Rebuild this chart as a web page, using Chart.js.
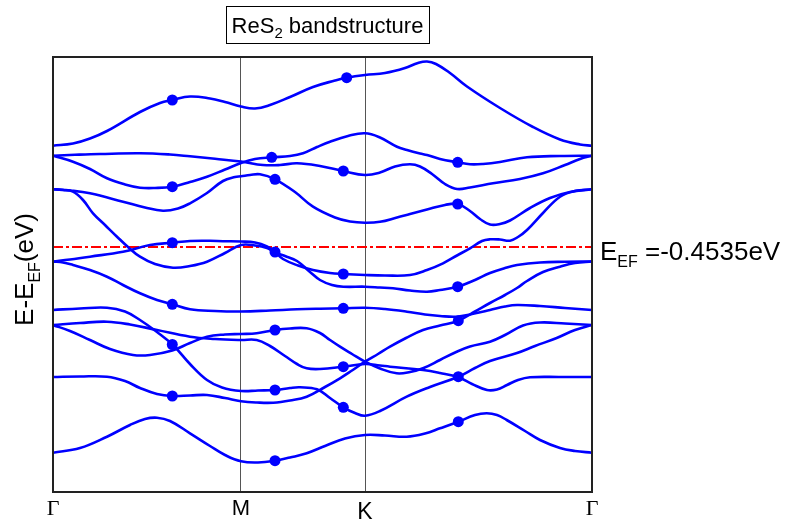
<!DOCTYPE html>
<html>
<head>
<meta charset="utf-8">
<script src="https://cdn.jsdelivr.net/npm/chart.js@4.4.1/dist/chart.umd.min.js"></script>
<style>
  html, body { margin: 0; padding: 0; background: #ffffff; }
  canvas { display: block; }
</style>
</head>
<body>
<canvas id="bands" width="789" height="525"></canvas>
<script>
// High-symmetry points along the k-path (path length, arbitrary units)
const kTicks = [0, 1.88, 3.12, 5.39];
const kLabels = ['\u0393', 'M', 'K', '\u0393'];

// Energy window (eV, relative to E_EF)
const eMin = -2.45;
const eMax = 1.90;
const fermiLevel = 0;
const fermiText = '=-0.4535eV';

// Band energies E(k): [k, E - E_EF]
const band01 = [[0,1.013],[0.20,1.035],[0.37,1.085],[0.54,1.16],[0.87,1.35],[1.07,1.44],[1.193,1.47],[1.37,1.505],[1.57,1.485],[1.72,1.45],[1.88,1.405],[2.02,1.385],[2.17,1.42],[2.37,1.50],[2.60,1.60],[2.82,1.665],[2.937,1.693],[3.12,1.72],[3.32,1.74],[3.52,1.79],[3.65,1.84],[3.74,1.855],[3.83,1.83],[3.97,1.74],[4.14,1.605],[4.47,1.39],[4.80,1.20],[5.07,1.075],[5.27,1.025],[5.39,1.013]];
const band02 = [[0,0.913],[0.22,0.922],[0.47,0.93],[0.87,0.937],[1.17,0.925],[1.37,0.907],[1.62,0.882],[1.88,0.855],[2.10,0.82],[2.27,0.82],[2.44,0.837],[2.67,0.81],[2.903,0.76],[3.12,0.72],[3.27,0.745],[3.42,0.805],[3.57,0.827],[3.67,0.805],[3.79,0.73],[3.92,0.63],[4.04,0.58],[4.17,0.595],[4.40,0.637],[4.67,0.68],[4.90,0.737],[5.12,0.82],[5.27,0.88],[5.39,0.913]];
const band03 = [[0,0.913],[0.20,0.853],[0.37,0.78],[0.54,0.687],[0.72,0.625],[0.87,0.593],[1.02,0.59],[1.193,0.603],[1.37,0.65],[1.54,0.703],[1.72,0.775],[1.88,0.84],[2.02,0.88],[2.187,0.897],[2.37,0.91],[2.50,0.937],[2.64,1.00],[2.77,1.053],[2.95,1.11],[3.12,1.137],[3.27,1.095],[3.44,1.003],[3.54,0.97],[3.67,0.935],[3.74,0.92],[3.87,0.88],[4.047,0.847],[4.17,0.827],[4.30,0.83],[4.47,0.85],[4.74,0.897],[5.07,0.91],[5.39,0.913]];
const band04 = [[0,0.577],[0.17,0.565],[0.37,0.537],[0.70,0.453],[0.92,0.395],[1.10,0.363],[1.25,0.385],[1.37,0.437],[1.54,0.54],[1.70,0.66],[1.82,0.70],[1.88,0.707],[1.97,0.72],[2.07,0.727],[2.22,0.677],[2.42,0.55],[2.60,0.403],[2.82,0.295],[2.97,0.255],[3.12,0.243],[3.27,0.252],[3.44,0.295],[3.57,0.33],[3.74,0.375],[3.92,0.42],[4.047,0.43],[4.17,0.36],[4.27,0.28],[4.37,0.225],[4.47,0.23],[4.57,0.265],[4.77,0.39],[4.97,0.49],[5.17,0.55],[5.39,0.577]];
const band05 = [[0,0.577],[0.10,0.572],[0.20,0.553],[0.30,0.47],[0.40,0.337],[0.52,0.22],[0.64,0.103],[0.75,0.0],[0.87,-0.097],[1.02,-0.17],[1.20,-0.207],[1.37,-0.19],[1.54,-0.147],[1.72,-0.06],[1.88,0.02],[2.02,0.015],[2.14,-0.01],[2.22,-0.055],[2.32,-0.09],[2.44,-0.14],[2.57,-0.25],[2.67,-0.33],[2.79,-0.38],[2.903,-0.397],[3.12,-0.397],[3.27,-0.405],[3.40,-0.413],[3.57,-0.435],[3.74,-0.447],[3.87,-0.43],[4.047,-0.397],[4.22,-0.33],[4.37,-0.26],[4.52,-0.21],[4.64,-0.18],[4.87,-0.155],[5.12,-0.148],[5.39,-0.145]];
const band06 = [[0,-0.145],[0.17,-0.125],[0.37,-0.097],[0.70,-0.047],[0.97,0.02],[1.193,0.043],[1.37,0.06],[1.57,0.062],[1.70,0.058],[1.88,0.055],[2.02,0.045],[2.14,0.005],[2.22,-0.05],[2.30,-0.12],[2.45,-0.185],[2.60,-0.23],[2.77,-0.26],[2.903,-0.27],[3.12,-0.28],[3.32,-0.285],[3.57,-0.28],[3.74,-0.23],[3.90,-0.163],[4.04,-0.085],[4.17,-0.013],[4.29,0.06],[4.37,0.077],[4.47,0.075],[4.57,0.063],[4.65,0.10],[4.74,0.17],[4.90,0.34],[5.07,0.503],[5.22,0.56],[5.39,0.577]];
const band07 = [[0,-0.145],[0.10,-0.155],[0.20,-0.18],[0.37,-0.23],[0.54,-0.297],[0.70,-0.38],[0.87,-0.463],[1.04,-0.53],[1.193,-0.573],[1.37,-0.623],[1.62,-0.64],[1.88,-0.645],[2.17,-0.635],[2.44,-0.623],[2.67,-0.617],[2.903,-0.613],[3.12,-0.607],[3.32,-0.62],[3.54,-0.647],[3.72,-0.675],[3.87,-0.69],[4.037,-0.697],[4.19,-0.67],[4.37,-0.63],[4.52,-0.595],[4.64,-0.58],[4.87,-0.59],[5.12,-0.61],[5.39,-0.63]];
const band08 = [[0,-0.63],[0.27,-0.615],[0.54,-0.607],[0.72,-0.645],[0.87,-0.73],[1.04,-0.85],[1.20,-0.98],[1.37,-1.17],[1.54,-1.33],[1.69,-1.405],[1.88,-1.44],[2.05,-1.435],[2.22,-1.43],[2.37,-1.41],[2.47,-1.403],[2.64,-1.423],[2.77,-1.51],[2.903,-1.603],[3.02,-1.66],[3.12,-1.687],[3.27,-1.64],[3.537,-1.497],[3.77,-1.40],[4.053,-1.297],[4.22,-1.21],[4.37,-1.14],[4.64,-1.06],[4.82,-0.99],[5.037,-0.91],[5.22,-0.83],[5.39,-0.78]];
const band09 = [[0,-0.78],[0.17,-0.84],[0.37,-0.93],[0.57,-1.02],[0.80,-1.08],[0.97,-1.08],[1.193,-1.035],[1.37,-0.96],[1.54,-0.897],[1.72,-0.875],[1.88,-0.87],[2.037,-0.863],[2.22,-0.83],[2.37,-0.815],[2.537,-0.813],[2.67,-0.86],[2.77,-0.93],[2.87,-0.997],[2.99,-1.07],[3.12,-1.147],[3.27,-1.215],[3.437,-1.263],[3.57,-1.25],[3.70,-1.213],[3.87,-1.13],[4.037,-1.047],[4.17,-0.995],[4.37,-0.947],[4.52,-0.88],[4.70,-0.785],[4.87,-0.755],[5.12,-0.765],[5.39,-0.78]];
const band10 = [[0,-0.78],[0.27,-0.76],[0.54,-0.747],[0.77,-0.775],[1.04,-0.83],[1.37,-0.897],[1.62,-0.92],[1.88,-0.93],[2.037,-0.93],[2.17,-0.99],[2.32,-1.09],[2.44,-1.17],[2.537,-1.213],[2.67,-1.22],[2.903,-1.197],[3.12,-1.17],[3.27,-1.185],[3.37,-1.197],[3.70,-1.23],[3.87,-1.26],[4.053,-1.303],[4.19,-1.37],[4.34,-1.43],[4.44,-1.425],[4.54,-1.38],[4.65,-1.33],[4.77,-1.303],[5.07,-1.30],[5.39,-1.30]];
const band11 = [[0,-1.30],[0.27,-1.295],[0.54,-1.297],[0.72,-1.34],[0.87,-1.41],[1.04,-1.47],[1.193,-1.49],[1.37,-1.485],[1.54,-1.48],[1.72,-1.51],[1.88,-1.542],[2.04,-1.555],[2.203,-1.557],[2.37,-1.535],[2.537,-1.497],[2.72,-1.40],[2.87,-1.313],[2.99,-1.235],[3.12,-1.147],[3.25,-1.07],[3.37,-0.997],[3.53,-0.91],[3.70,-0.83],[3.87,-0.785],[4.053,-0.737],[4.22,-0.645],[4.37,-0.56],[4.52,-0.48],[4.64,-0.41],[4.74,-0.34],[4.90,-0.25],[5.07,-0.197],[5.22,-0.16],[5.39,-0.145]];
const band12 = [[0,-2.057],[0.27,-2.01],[0.54,-1.897],[0.77,-1.78],[0.92,-1.72],[1.04,-1.707],[1.17,-1.74],[1.37,-1.863],[1.57,-1.99],[1.72,-2.08],[1.88,-2.143],[2.05,-2.155],[2.22,-2.137],[2.37,-2.105],[2.537,-2.063],[2.72,-1.99],[2.92,-1.915],[3.12,-1.88],[3.32,-1.885],[3.537,-1.897],[3.72,-1.865],[3.87,-1.813],[4.053,-1.747],[4.22,-1.68],[4.337,-1.663],[4.44,-1.68],[4.537,-1.73],[4.72,-1.84],[4.87,-1.93],[5.07,-2.01],[5.22,-2.04],[5.39,-2.057]];

// Marked k-points on the bands
const markers = [
  [1.193,1.47],[1.193,0.603],[1.193,0.043],[1.193,-0.573],[1.193,-0.975],[1.193,-1.49],
  [2.187,0.897],[2.22,0.677],[2.22,-0.05],[2.22,-0.83],[2.22,-1.43],[2.22,-2.137],
  [2.937,1.693],[2.903,0.76],[2.903,-0.27],[2.903,-0.613],[2.903,-1.197],[2.903,-1.603],
  [4.047,0.847],[4.047,0.43],[4.047,-0.397],[4.053,-0.737],[4.053,-1.297],[4.053,-1.747]
];

const bands = [band01, band02, band03, band04, band05, band06, band07, band08, band09, band10, band11, band12];

const BLUE = '#0000ff';
const SANS = '"Liberation Sans", Arial, Helvetica, sans-serif';
const SERIF = '"Liberation Serif", "Times New Roman", serif';

const toXY = arr => arr.map(([x, y]) => ({ x, y }));

const datasets = bands.map(b => ({
  data: toXY(b),
  borderColor: BLUE,
  borderWidth: 2.6,
  pointRadius: 0,
  tension: 0.4,
  borderCapStyle: 'round',
  borderJoinStyle: 'round',
  fill: false,
  order: 1
}));

datasets.push({
  data: toXY(markers),
  showLine: false,
  pointRadius: 5.5,
  pointBackgroundColor: BLUE,
  pointBorderWidth: 0,
  order: 0
});

datasets.push({
  data: [{ x: kTicks[0], y: fermiLevel }, { x: kTicks[kTicks.length - 1], y: fermiLevel }],
  borderColor: '#ff0000',
  borderWidth: 2,
  borderDash: [10, 3, 3, 3],
  pointRadius: 0,
  fill: false,
  order: 2
});

// draw text made of runs: [text, fontSize, baselineShift]
function drawRuns(ctx, runs, x, y) {
  let cx = x;
  for (const [t, s, dy] of runs) {
    ctx.font = s + 'px ' + SANS;
    ctx.fillText(t, cx, y + dy);
    cx += ctx.measureText(t).width;
  }
  return cx - x;
}
function runsWidth(ctx, runs) {
  let w = 0;
  for (const [t, s] of runs) { ctx.font = s + 'px ' + SANS; w += ctx.measureText(t).width; }
  return w;
}

const decorations = {
  id: 'decorations',
  afterDraw(chart) {
    const { ctx, chartArea: a, scales } = chart;
    ctx.save();

    // plot frame
    ctx.strokeStyle = '#222222';
    ctx.lineWidth = 2;
    ctx.strokeRect(a.left, a.top, a.right - a.left, a.bottom - a.top);

    ctx.fillStyle = '#000000';
    ctx.textAlign = 'left';
    ctx.textBaseline = 'alphabetic';

    // boxed title
    const titleRuns = [['ReS', 22, 0], ['2', 15, 5], [' bandstructure', 22, 0]];
    const tw = runsWidth(ctx, titleRuns);
    const tcx = 327.5;
    drawRuns(ctx, titleRuns, tcx - tw / 2, 33);
    ctx.strokeStyle = '#000000';
    ctx.lineWidth = 1;
    ctx.strokeRect(226.5, 6.5, 203, 37);

    // y axis title (rotated)
    const yRuns = [['E-E', 26, 0], ['EF', 16, 7], ['(eV)', 26, 0]];
    const yw = runsWidth(ctx, yRuns);
    ctx.save();
    ctx.translate(33, (a.top + a.bottom) / 2);
    ctx.rotate(-Math.PI / 2);
    drawRuns(ctx, yRuns, -yw / 2 + 5, 0);
    ctx.restore();

    // Fermi level label
    const yF = scales.y.getPixelForValue(fermiLevel);
    drawRuns(ctx, [['E', 26, 0], ['EF', 16, 7], [' ' + fermiText, 26, 0]], a.right + 8, yF + 13);

    ctx.restore();
  }
};

new Chart(document.getElementById('bands'), {
  type: 'line',
  data: { datasets },
  plugins: [decorations],
  options: {
    responsive: false,
    animation: false,
    devicePixelRatio: 1,
    layout: { padding: { left: 53, right: 197, top: 57, bottom: 0 } },
    plugins: { legend: { display: false }, tooltip: { enabled: false }, title: { display: false } },
    scales: {
      x: {
        type: 'linear',
        min: kTicks[0],
        max: kTicks[kTicks.length - 1],
        afterBuildTicks: scale => { scale.ticks = kTicks.map(v => ({ value: v })); },
        afterFit: scale => { scale.height = 33; },
        border: { display: false },
        grid: {
          drawTicks: false,
          lineWidth: 1,
          color: c => (c.index === 1 || c.index === 2) ? '#555555' : 'rgba(0,0,0,0)'
        },
        ticks: {
          autoSkip: false,
          maxRotation: 0,
          padding: 4,
          color: '#000000',
          callback: (v, i) => kLabels[i],
          font: c => {
            const lab = kLabels[c.index];
            if (lab === '\u0393') return { family: SERIF, size: 22 };
            if (lab === 'K') return { family: SANS, size: 23, lineHeight: 1.45 };
            return { family: SANS, size: 22 };
          }
        }
      },
      y: {
        type: 'linear',
        min: eMin,
        max: eMax,
        display: false
      }
    }
  }
});
</script>
</body>
</html>
